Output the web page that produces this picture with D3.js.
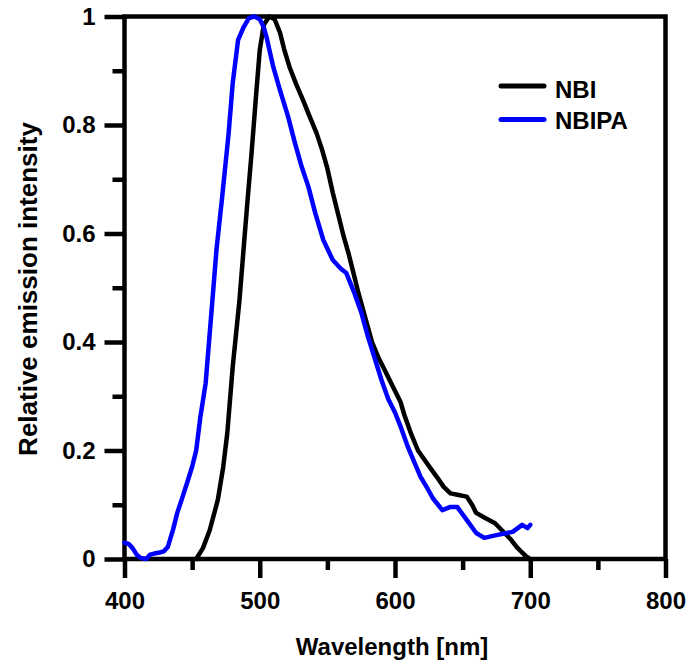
<!DOCTYPE HTML>
<HTML>
  <HEAD>
    <TITLE>Emission spectra</TITLE>
    <script src="https://d3js.org/d3.v7.min.js" charset="utf-8"></script>
    <style>
      body { margin: 0; background: white; }
      text { font-family: "Liberation Sans", Arial, sans-serif; font-weight: bold; }
    </style>
  </HEAD>
  <BODY>

  <script type="text/javascript">

    // NBI spectrum
    var nbiWl  = [453, 458, 463, 469, 473, 476, 480, 485, 488, 491, 494, 497, 500, 503, 507, 511, 515, 518, 522, 527, 532, 537, 542, 546, 550, 554, 558, 562, 566, 570, 573, 578, 583, 588, 593, 598, 604, 607, 612, 617, 624, 631, 636, 641, 647, 653, 657, 660, 667, 674, 681, 686, 690, 694, 697, 700];
    var nbiVal = [0, 0.02, 0.053, 0.109, 0.17, 0.232, 0.354, 0.477, 0.57, 0.662, 0.75, 0.846, 0.938, 0.985, 1.0, 0.995, 0.97, 0.94, 0.907, 0.875, 0.846, 0.815, 0.785, 0.755, 0.72, 0.675, 0.635, 0.595, 0.56, 0.52, 0.49, 0.445, 0.4, 0.37, 0.345, 0.32, 0.29, 0.265, 0.23, 0.2, 0.175, 0.151, 0.133, 0.121, 0.118, 0.115, 0.1, 0.085, 0.075, 0.066, 0.048, 0.035, 0.022, 0.012, 0.005, 0];

    // NBIPA spectrum
    var nbipaWl  = [400, 403, 406, 409, 412, 416, 419, 422, 426, 429, 432, 436, 439, 443, 447, 450, 453, 456, 460, 463, 465, 468, 472, 477, 480, 484, 488, 492, 496, 500, 503, 505, 510, 515, 521, 526, 531, 536, 541, 547, 554, 560, 564, 570, 575, 580, 585, 590, 595, 600, 604, 609, 614, 619, 624, 628, 635, 641, 646, 653, 660, 666, 675, 687, 694, 698, 700];
    var nbipaVal = [0.03, 0.028, 0.02, 0.008, 0.002, 0, 0.008, 0.01, 0.012, 0.014, 0.022, 0.055, 0.085, 0.115, 0.146, 0.17, 0.2, 0.26, 0.324, 0.416, 0.477, 0.57, 0.662, 0.785, 0.877, 0.957, 0.98, 0.997, 1.0, 0.995, 0.98, 0.962, 0.907, 0.864, 0.815, 0.767, 0.723, 0.686, 0.638, 0.588, 0.551, 0.535, 0.527, 0.49, 0.455, 0.41, 0.37, 0.33, 0.295, 0.27, 0.245, 0.21, 0.18, 0.151, 0.13, 0.112, 0.09, 0.096, 0.096, 0.072, 0.048, 0.039, 0.044, 0.05, 0.063, 0.057, 0.063];

    var xMajor = [400, 500, 600, 700, 800];
    var xMinor = [450, 550, 650, 750];
    var yMajor = [0, 0.2, 0.4, 0.6, 0.8, 1];
    var yMinor = [0.1, 0.3, 0.5, 0.7, 0.9];

    var seriesNames  = ["NBI", "NBIPA"];
    var seriesColors = ["#000000", "#0000ff"];

    var w = 691;
    var h = 666;

    var svg = d3.select("body").append("svg")
      .attr("width", w)
      .attr("height", h);

    var x = d3.scaleLinear().domain([400, 800]).range([124.5, 665.5]);
    var y = d3.scaleLinear().domain([0, 1]).range([559, 16.5]);

    var AXIS_W = 4.5;

    // frame
    svg.append("rect")
      .attr("x", x(400))
      .attr("y", y(1))
      .attr("width", x(800) - x(400))
      .attr("height", y(0) - y(1))
      .attr("fill", "none")
      .attr("stroke", "black")
      .attr("stroke-width", AXIS_W);

    var fmtY = function(d) { return d === 0 ? "0" : d === 1 ? "1" : d3.format(".1f")(d); };

    var styleAxis = function(g) {
      g.select(".domain").remove();
      g.selectAll(".tick line")
        .attr("stroke", "black")
        .attr("stroke-width", AXIS_W);
      g.selectAll(".tick text")
        .attr("font-size", 24)
        .attr("fill", "black");
    };

    // x axis
    svg.append("g")
      .attr("transform", "translate(0," + y(0) + ")")
      .call(d3.axisBottom(x).tickValues(xMajor).tickSize(19).tickPadding(14).tickFormat(d3.format("d")))
      .call(styleAxis);

    svg.append("g")
      .attr("transform", "translate(0," + y(0) + ")")
      .call(d3.axisBottom(x).tickValues(xMinor).tickSize(11).tickFormat(""))
      .call(styleAxis);

    // y axis
    svg.append("g")
      .attr("transform", "translate(" + x(400) + ",0)")
      .call(d3.axisLeft(y).tickValues(yMajor).tickSize(20).tickPadding(9).tickFormat(fmtY))
      .call(styleAxis);

    svg.append("g")
      .attr("transform", "translate(" + x(400) + ",0)")
      .call(d3.axisLeft(y).tickValues(yMinor).tickSize(12).tickFormat(""))
      .call(styleAxis);

    svg.selectAll("g .tick text").attr("font-family", "Liberation Sans, Arial, sans-serif");

    // titles
    svg.append("text")
      .text("Wavelength [nm]")
      .attr("x", 392)
      .attr("y", 655)
      .attr("font-size", 24)
      .attr("text-anchor", "middle");

    svg.append("text")
      .text("Relative emission intensity")
      .attr("transform", "translate(37," + 289 + ") rotate(-90)")
      .attr("font-size", 26)
      .attr("text-anchor", "middle");

    // curves
    var line = d3.line()
      .x(function(d) { return x(d[0]); })
      .y(function(d) { return y(d[1]); });

    var series = [
      d3.zip(nbiWl, nbiVal),
      d3.zip(nbipaWl, nbipaVal)
    ];

    svg.selectAll("path.curve")
      .data(series)
      .enter()
      .append("path")
      .attr("class", "curve")
      .attr("d", line)
      .attr("fill", "none")
      .attr("stroke", function(d, i) { return seriesColors[i]; })
      .attr("stroke-width", 4.5)
      .attr("stroke-linejoin", "round")
      .attr("stroke-linecap", "round");

    // legend
    var legend = svg.selectAll("g.legend")
      .data(seriesNames)
      .enter()
      .append("g")
      .attr("class", "legend")
      .attr("transform", function(d, i) {
        return "translate(0," + (86 + i * 33.5) + ")";
      });

    legend.append("line")
      .attr("x1", 501)
      .attr("x2", 544)
      .attr("y1", 0)
      .attr("y2", 0)
      .attr("stroke", function(d, i) { return seriesColors[i]; })
      .attr("stroke-width", 5)
      .attr("stroke-linecap", "round");

    legend.append("text")
      .text(function(d) { return d; })
      .attr("x", 555)
      .attr("y", function(d, i) { return i === 0 ? 12 : 9.5; })
      .attr("font-size", 24)
      .attr("fill", "black");

  </script>
  </BODY>
</HTML>
